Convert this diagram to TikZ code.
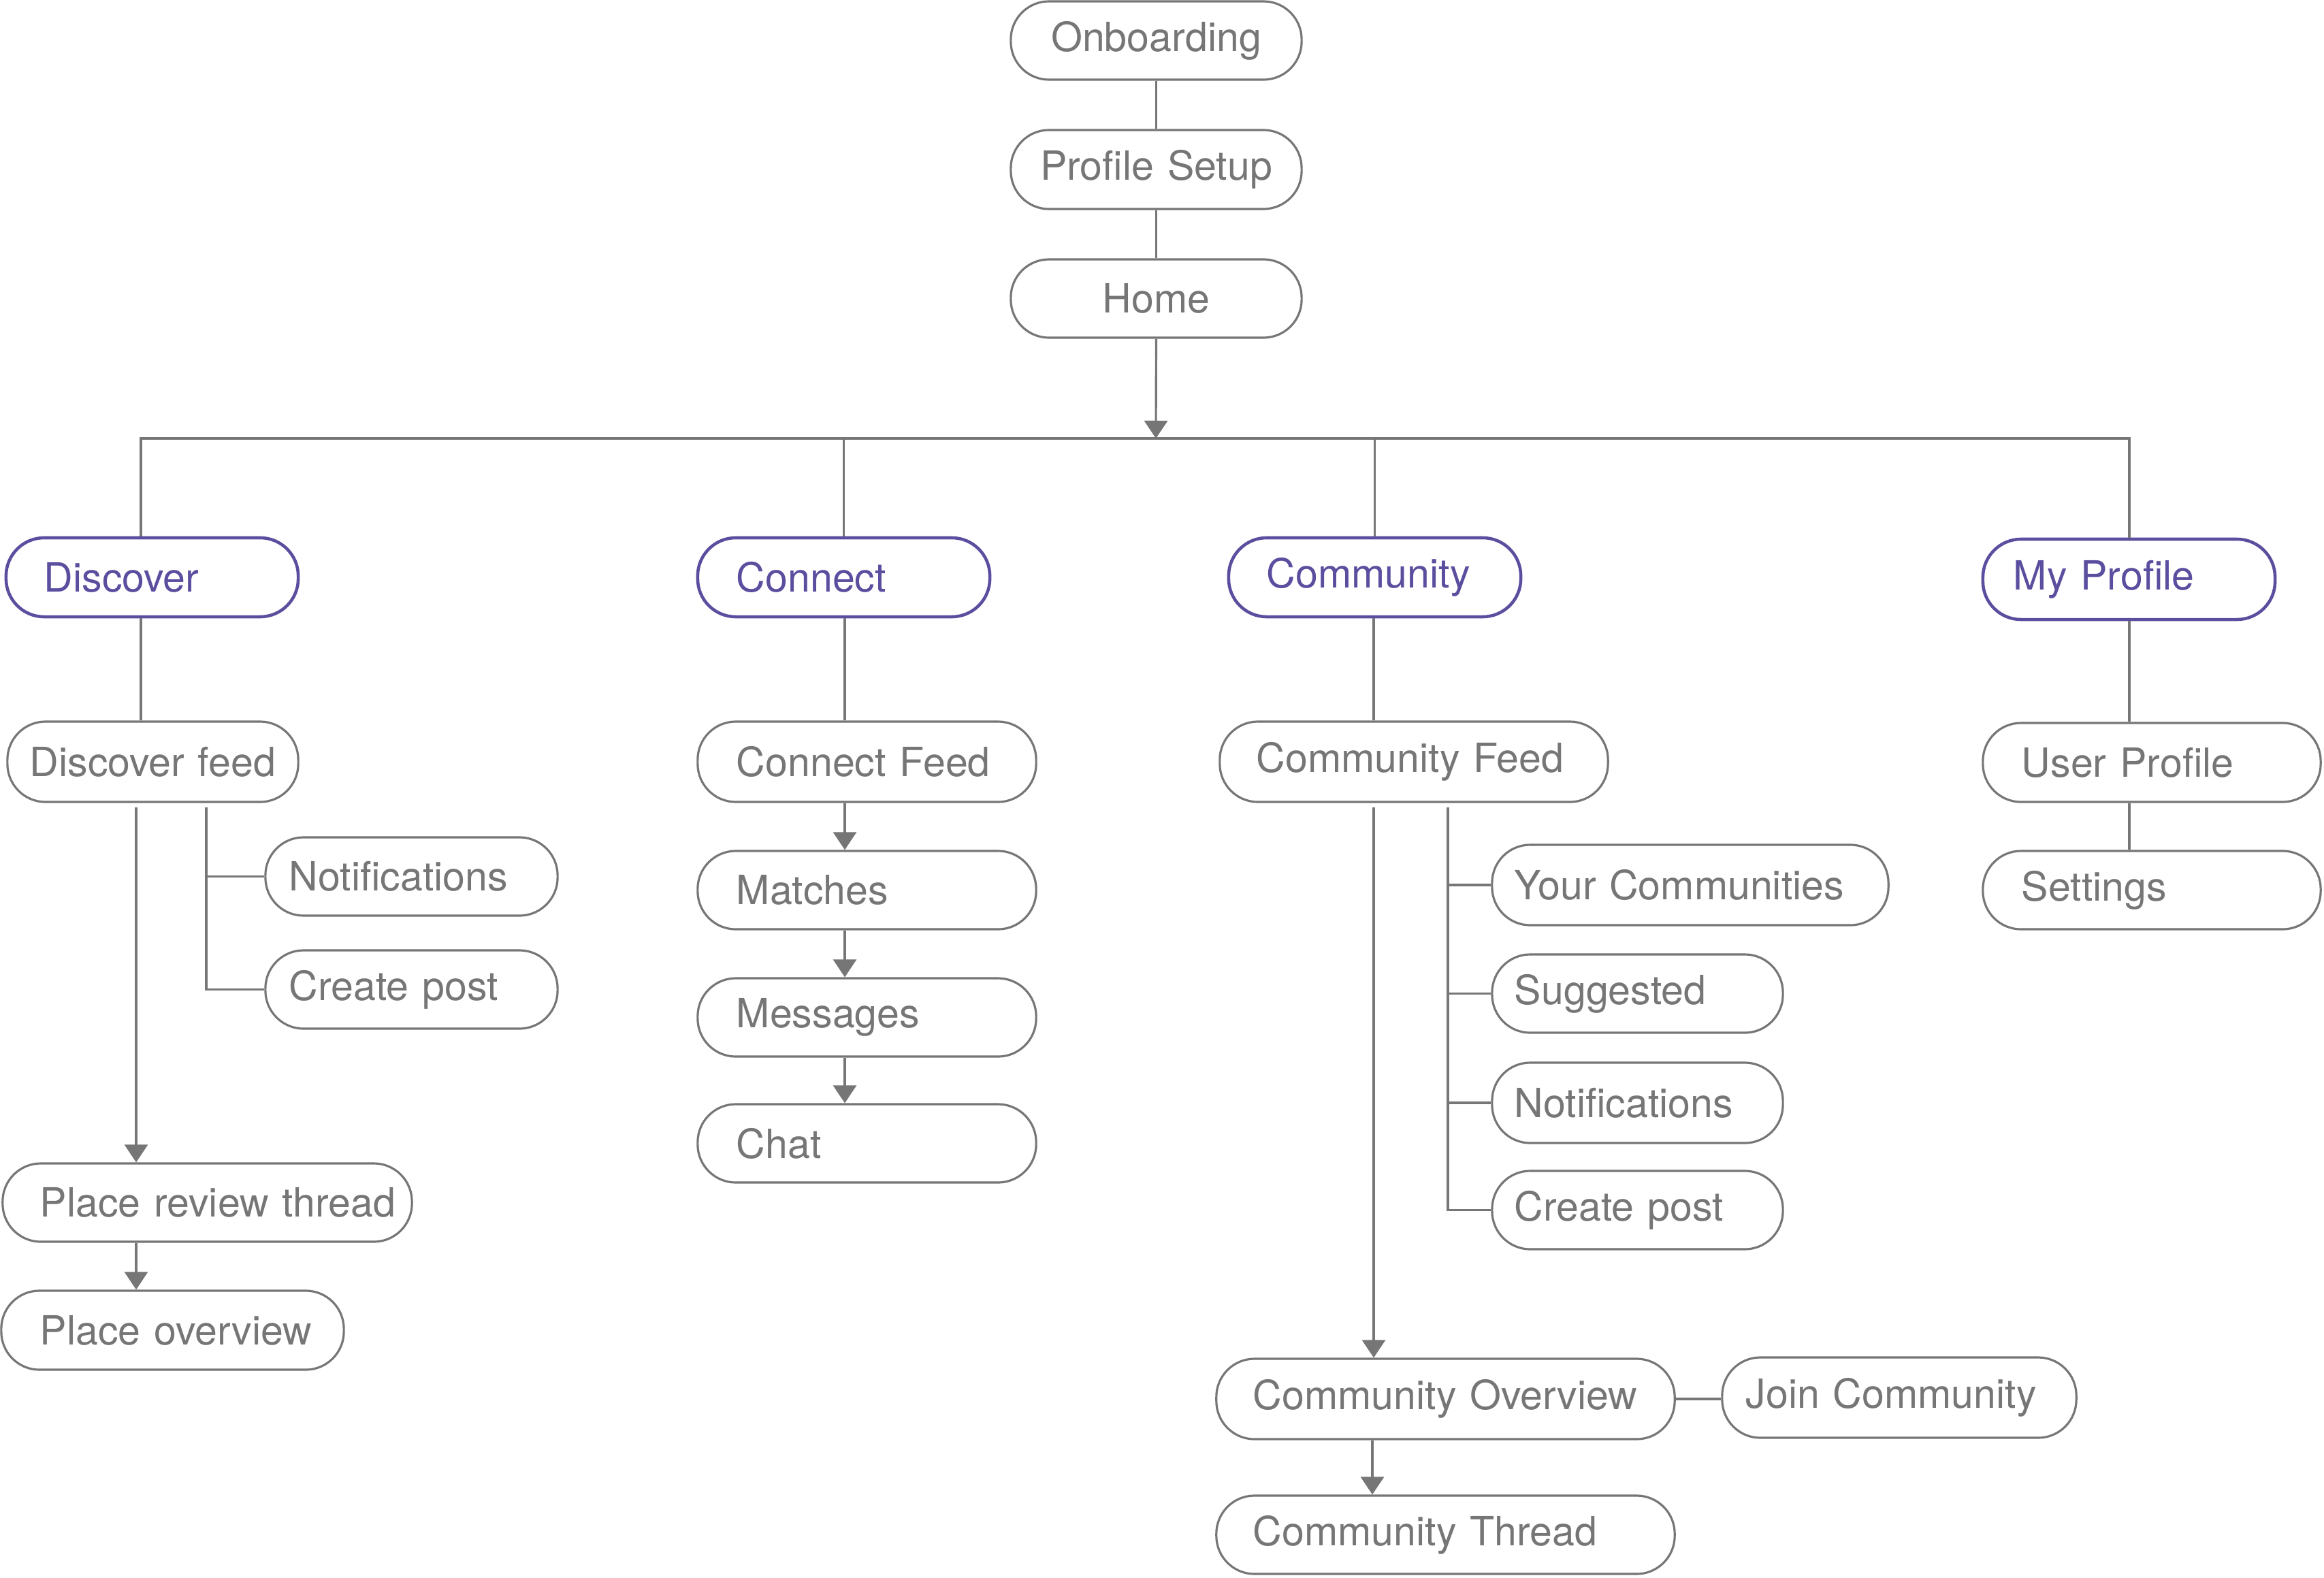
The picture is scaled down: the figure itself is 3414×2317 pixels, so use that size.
\documentclass[tikz,border=0pt]{standalone}
\usepackage{fontspec}
\setmainfont{TeX Gyre Heros}
\usetikzlibrary{arrows.meta}
\definecolor{lg}{HTML}{767676}
\definecolor{pu}{HTML}{5A4E9F}
% #1 style, #2 name, #3 left, #4 top, #5 right, #6 bottom, #7 pad, #8 text
\newcommand\pillbox[8]{%
  \pgfmathsetmacro\ph{(#6-#4)/100}%
  \pgfmathsetmacro\pcx{(#3+#5)/2}%
  \pgfmathsetmacro\pcy{(#4+#6)/2}%
  \pgfmathsetmacro\ptw{(#5-#3-2*#7)/100}%
  \pgfmathsetmacro\ppad{#7/100}%
  \node[#1, minimum height=\ph cm, text width=\ptw cm, inner xsep=\ppad cm] (#2) at (\pcx,\pcy) {\mbox{#8}};%
}
\begin{document}
\begin{tikzpicture}[x=0.01cm,y=-0.01cm,
  pill/.style={draw=lg, line width=0.9pt, rounded corners=0.56cm, text=lg, inner ysep=0pt, align=left, font=\fontsize{16.8}{20}\selectfont},
  cat/.style={pill, draw=pu, text=pu, line width=1.3pt},
  ctr/.style={pill, align=center},
  conn/.style={draw=lg, line width=0.9pt},
  arr/.style={conn, -{Triangle[width=0.34cm,length=0.26cm]}}]
\fill[white] (0,0) rectangle (3414,2317);
\useasboundingbox (0,0) rectangle (3414,2317);

% top chain
\pillbox{ctr}{onb}{1485}{2}{1912}{117}{20}{Onboarding}
\pillbox{ctr}{prof}{1485}{191}{1912}{307}{20}{Profile Setup}
\pillbox{ctr}{home}{1485}{381}{1912}{496}{20}{Home}

% categories
\pillbox{cat}{disc}{9}{790}{438}{906}{56}{Discover}
\pillbox{cat}{cnt}{1025}{790}{1454}{906}{57}{Connect}
\pillbox{cat}{comm}{1805}{790}{2234}{906}{56}{Community}
\pillbox{cat}{myp}{2913}{792}{3342}{910}{45}{My Profile}

% discover
\pillbox{pill}{dfeed}{11}{1060}{438}{1178}{33}{Discover feed}
\pillbox{pill}{dnot}{390}{1230}{819}{1345}{35}{Notifications}
\pillbox{pill}{dpost}{390}{1396}{819}{1511}{35}{Create post}
\pillbox{pill}{prt}{4}{1709}{605}{1824}{55}{Place review thread}
\pillbox{pill}{pov}{2}{1896}{505}{2012}{57}{Place overview}

% connect
\pillbox{pill}{cfeed}{1025}{1060}{1522}{1178}{57}{Connect Feed}
\pillbox{pill}{match}{1025}{1250}{1522}{1365}{57}{Matches}
\pillbox{pill}{msg}{1025}{1437}{1522}{1552}{57}{Messages}
\pillbox{pill}{chat}{1025}{1622}{1522}{1737}{57}{Chat}

% community
\pillbox{pill}{mfeed}{1792}{1060}{2362}{1178}{54}{Community Feed}
\pillbox{pill}{yc}{2192}{1241}{2774}{1359}{33}{Your Communities}
\pillbox{pill}{sug}{2192}{1402}{2619}{1517}{33}{Suggested}
\pillbox{pill}{mnot}{2192}{1561}{2619}{1679}{33}{Notifications}
\pillbox{pill}{mpost}{2192}{1720}{2619}{1835}{33}{Create post}
\pillbox{pill}{cov}{1787}{1996}{2460}{2114}{54}{Community Overview}
\pillbox{pill}{join}{2530}{1994}{3050}{2112}{35}{Join Community}
\pillbox{pill}{cthr}{1787}{2197}{2460}{2312}{54}{Community Thread}

% my profile
\pillbox{pill}{uprof}{2913}{1062}{3409}{1178}{57}{User Profile}
\pillbox{pill}{sett}{2913}{1250}{3409}{1365}{57}{Settings}

% coordinates
\coordinate (busM) at (1698,644);
\coordinate (busL) at (207,644);
\coordinate (busR) at (3128,644);
\coordinate (da) at (200,0);
\coordinate (db) at (303,0);
\coordinate (ca) at (1241,0);
\coordinate (ma) at (2018,0);
\coordinate (mb) at (2127,0);
\coordinate (mc) at (2016,0);
\coordinate (pa) at (3128,0);

% top connectors
\draw[conn] (onb.south) -- (prof.north);
\draw[conn] (prof.south) -- (home.north);
\draw[arr] (home.south) -- (busM);
\draw[conn] (disc.north -| busL) -- (busL) -- (busR) -- (myp.north -| busR);
\draw[conn] (cnt.north) -- (cnt.north |- busL);
\draw[conn] (comm.north) -- (comm.north |- busL);

% discover connectors
\draw[conn] (disc.south -| busL) -- (dfeed.north -| busL);
\draw[arr] ([yshift=-0.06cm]dfeed.south -| da) -- (prt.north -| da);
\draw[conn] ([yshift=-0.06cm]dfeed.south -| db) |- (dpost.west);
\draw[conn] (dnot.west) -- (dnot.west -| db);
\draw[arr] (prt.south -| da) -- (pov.north -| da);

% connect connectors
\draw[conn] (cnt.south -| ca) -- (cfeed.north -| ca);
\draw[arr] (cfeed.south -| ca) -- (match.north -| ca);
\draw[arr] (match.south -| ca) -- (msg.north -| ca);
\draw[arr] (msg.south -| ca) -- (chat.north -| ca);

% community connectors
\draw[conn] (comm.south -| ma) -- (mfeed.north -| ma);
\draw[arr] ([yshift=-0.06cm]mfeed.south -| ma) -- (cov.north -| ma);
\draw[conn] ([yshift=-0.06cm]mfeed.south -| mb) |- (mpost.west);
\draw[conn] (yc.west) -- (yc.west -| mb);
\draw[conn] (sug.west) -- (sug.west -| mb);
\draw[conn] (mnot.west) -- (mnot.west -| mb);
\draw[conn] (cov.east) -- (cov.east -| join.west);
\draw[arr] (cov.south -| mc) -- (cthr.north -| mc);

% my profile connectors
\draw[conn] (myp.south -| pa) -- (uprof.north -| pa);
\draw[conn] (uprof.south -| pa) -- (sett.north -| pa);
\end{tikzpicture}
\end{document}
